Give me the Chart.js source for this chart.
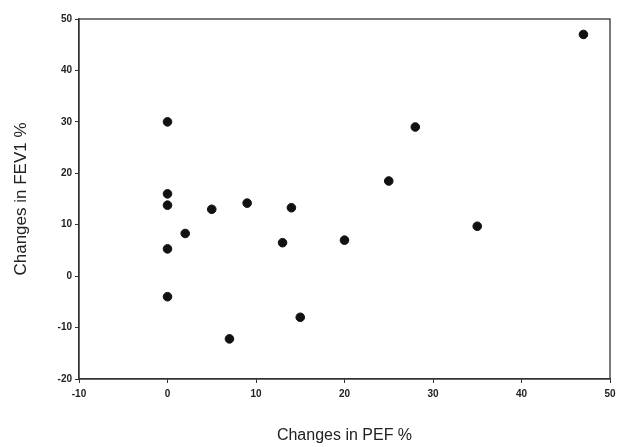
<!DOCTYPE html>
<html>
<head>
<meta charset="utf-8">
<script src="https://cdn.jsdelivr.net/npm/chart.js@4.4.1/dist/chart.umd.min.js"></script>
<style>
html,body{margin:0;padding:0;background:#fff;}
#wrap{width:626px;height:447px;position:relative;}
</style>
</head>
<body>
<div id="wrap"><canvas id="c" width="626" height="447"></canvas></div>
<script>
// Data
const pefChanges  = [0, 0, 0, 0, 0, 2, 5, 7, 9, 13, 14, 15, 20, 25, 28, 35, 47];
const fev1Changes = [30, 16, 13.8, 5.3, -4, 8.3, 13, -12.2, 14.2, 6.5, 13.3, -8, 7, 18.5, 29, 9.7, 47];
const xTicks = [-10, 0, 10, 20, 30, 40, 50];
const yTicks = [-20, -10, 0, 10, 20, 30, 40, 50];

const points = pefChanges.map((x, i) => ({x: x, y: fev1Changes[i]}));

const frame = {
  id: 'frame',
  afterDraw(chart) {
    const {ctx, chartArea: a} = chart;
    ctx.save();
    ctx.strokeStyle = '#333';
    ctx.lineWidth = 1.3;
    ctx.strokeRect(a.left, a.top, a.right - a.left, a.bottom - a.top);
    ctx.restore();
  }
};

const tickFont = {family: 'Arial, "Liberation Sans", sans-serif', size: 10, weight: 'bold'};

new Chart(document.getElementById('c'), {
  type: 'scatter',
  data: {
    datasets: [{
      data: points,
      backgroundColor: '#111',
      borderColor: '#111',
      pointRadius: 4.3,
      pointHoverRadius: 4.3
    }]
  },
  options: {
    responsive: false,
    animation: false,
    events: [],
    layout: {padding: {top: 19, right: 16, bottom: 0, left: 0}},
    plugins: {legend: {display: false}, tooltip: {enabled: false}},
    scales: {
      x: {
        type: 'linear', min: -10, max: 50,
        afterBuildTicks: s => { s.ticks = xTicks.map(v => ({value: v})); },
        afterFit: s => { s.height = 68; },
        grid: {drawOnChartArea: false, drawTicks: true, tickLength: 4, color: '#333'},
        border: {display: true, color: '#333', width: 1.3},
        ticks: {color: '#222', font: tickFont, padding: 5, maxRotation: 0},
        title: {display: true, text: 'Changes in PEF %', color: '#222',
                font: {family: 'Arial, "Liberation Sans", sans-serif', size: 16},
                padding: {top: 0, bottom: 2}}
      },
      y: {
        type: 'linear', min: -20, max: 50,
        afterBuildTicks: s => { s.ticks = yTicks.map(v => ({value: v})); },
        afterFit: s => { s.width = 79; },
        grid: {drawOnChartArea: false, drawTicks: true, tickLength: 4, color: '#333'},
        border: {display: true, color: '#333', width: 1.3},
        ticks: {color: '#222', font: tickFont, padding: 3},
        title: {display: true, text: 'Changes in FEV1 %', color: '#222',
                font: {family: 'Arial, "Liberation Sans", sans-serif', size: 17},
                padding: {top: 11, bottom: 0}}
      }
    }
  },
  plugins: [frame]
});
</script>
</body>
</html>
